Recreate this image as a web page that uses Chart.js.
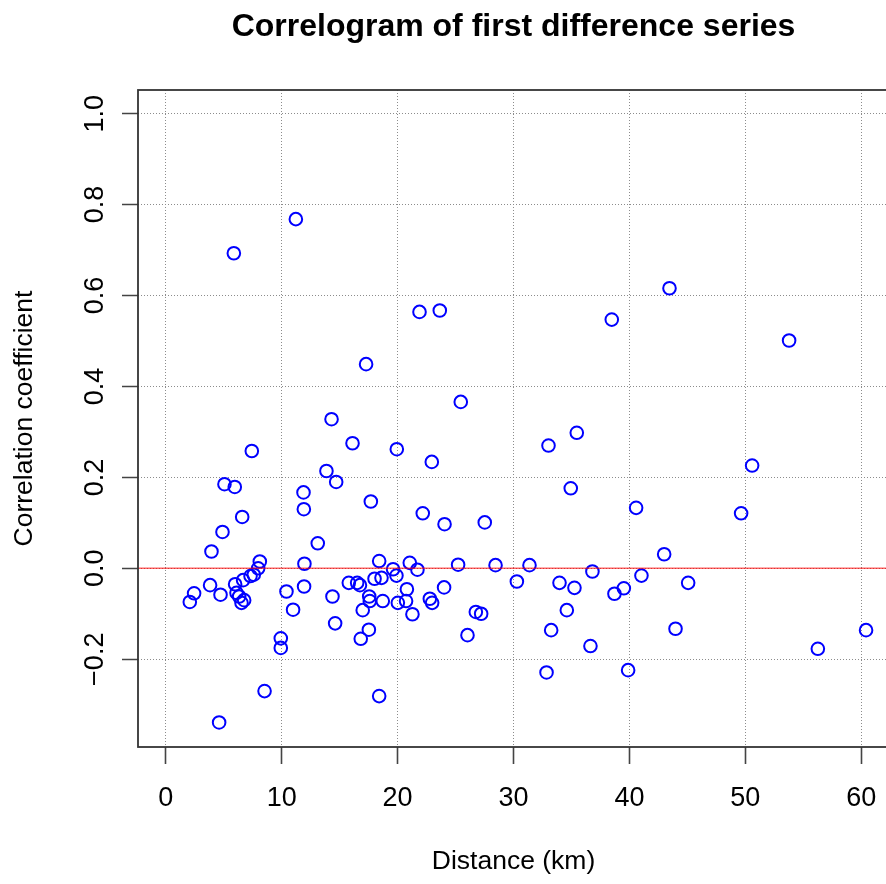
<!DOCTYPE html>
<html>
<head>
<meta charset="utf-8">
<title>Correlogram of first difference series</title>
<script src="https://cdn.jsdelivr.net/npm/chart.js@4.4.1/dist/chart.umd.min.js"></script>
<style>
  html, body { margin: 0; padding: 0; background: #fff; overflow: hidden; }
  #wrap { width: 900px; height: 884px; position: relative; }
</style>
</head>
<body>
<div id="wrap"><canvas id="corr"></canvas></div>
<script>
// --- data ---
const distanceKm = [
  5.87, 11.22, 17.28, 21.89, 23.64, 25.45, 38.48, 43.46, 53.78,
  14.30, 16.11, 7.42, 19.93, 22.95, 13.86, 14.70, 5.06, 5.95, 11.88,
  11.91, 17.69, 22.17, 6.59, 4.89, 13.11, 3.94, 8.11, 11.96, 18.41,
  21.05, 21.71, 19.61, 19.90, 7.97, 7.59, 7.31, 6.67, 5.98, 3.82,
  11.93, 15.79, 16.51, 16.75, 18.01, 18.61, 20.80, 2.44, 2.07, 4.72,
  6.10, 6.33, 6.76, 6.53, 10.41, 14.38, 17.55, 17.60, 18.72, 20.02,
  20.73, 22.78, 22.98, 10.98, 16.99, 21.28, 14.61, 17.52, 16.82, 9.92,
  9.92, 8.52, 18.41, 4.60,
  33.02, 35.46, 34.94, 40.58, 24.05, 27.52, 43.00, 25.22, 28.45, 31.38,
  36.81, 41.04, 30.29, 33.97, 35.26, 38.71, 39.52, 45.07, 24.01, 26.75,
  27.21, 34.60, 26.03, 33.25, 36.64, 43.98, 32.85, 39.89, 50.59, 49.64,
  60.42, 56.26
];
const correlation = [
  0.693, 0.768, 0.449, 0.564, 0.567, 0.366, 0.547, 0.616, 0.501,
  0.328, 0.275, 0.258, 0.262, 0.234, 0.214, 0.190, 0.185, 0.179, 0.167,
  0.130, 0.147, 0.121, 0.113, 0.080, 0.055, 0.037, 0.015, 0.010, 0.016,
  0.012, -0.003, -0.002, -0.016, 0.000, -0.014, -0.017, -0.026, -0.035, -0.037,
  -0.040, -0.032, -0.032, -0.037, -0.023, -0.021, -0.046, -0.055, -0.074, -0.058,
  -0.054, -0.062, -0.070, -0.076, -0.051, -0.062, -0.062, -0.072, -0.072, -0.076,
  -0.072, -0.067, -0.076, -0.091, -0.092, -0.101, -0.121, -0.135, -0.155, -0.154,
  -0.175, -0.270, -0.281, -0.339,
  0.270, 0.298, 0.176, 0.133, 0.097, 0.101, 0.031, 0.008, 0.007, 0.007,
  -0.007, -0.016, -0.029, -0.032, -0.043, -0.056, -0.044, -0.032, -0.042, -0.096,
  -0.100, -0.092, -0.147, -0.136, -0.171, -0.133, -0.229, -0.224, 0.226, 0.121,
  -0.136, -0.177
];
const xTickValues = [0, 10, 20, 30, 40, 50, 60];
const yTickValues = [-0.2, 0.0, 0.2, 0.4, 0.6, 0.8, 1.0];
const zeroLevel = 0;

const FONT = 'Liberation Sans, Arial, Helvetica, sans-serif';

// box round the plot region + red reference line at zero
const frame = {
  id: 'frame',
  afterDatasetsDraw(chart) {
    const { ctx, chartArea: a, scales: { y } } = chart;
    const py = y.getPixelForValue(zeroLevel);
    ctx.save();
    ctx.strokeStyle = 'rgba(255,0,0,0.6)';
    ctx.lineWidth = 1.4;
    ctx.beginPath();
    ctx.moveTo(a.left, py);
    ctx.lineTo(a.right, py);
    ctx.stroke();
    ctx.strokeStyle = '#333';
    ctx.lineWidth = 1.8;
    ctx.strokeRect(a.left, a.top, a.right - a.left, a.bottom - a.top);
    ctx.restore();
  }
};

const fmtY = v => (Math.abs(v) < 1e-9 ? '0.0' : v.toFixed(1).replace('-', '\u2212'));

new Chart(document.getElementById('corr'), {
  type: 'scatter',
  data: {
    datasets: [{
      data: distanceKm.map((d, i) => ({ x: d, y: correlation[i] })),
      pointStyle: 'circle',
      pointRadius: 6.3,
      pointHoverRadius: 6.3,
      borderWidth: 2,
      borderColor: '#0000ff',
      backgroundColor: 'rgba(0,0,0,0)'
    }]
  },
  options: {
    responsive: true,
    maintainAspectRatio: false,
    animation: false,
    events: [],
    layout: { padding: { left: 0, right: 11, top: 0, bottom: 0 } },
    scales: {
      x: {
        type: 'linear',
        min: -2.4,
        max: 62.4,
        afterBuildTicks: s => { s.ticks = xTickValues.map(v => ({ value: v })); },
        afterFit: s => { s.height = 137; },
        grid: {
          color: '#8c8c8c',
          lineWidth: 1,
          tickLength: 17,
          tickColor: '#444',
          tickWidth: 1.6,
          tickBorderDash: [10, 0]
        },
        border: { display: false, dash: [1, 2] },
        ticks: {
          autoSkip: false,
          maxRotation: 0,
          padding: 18,
          color: '#000',
          font: { family: FONT, size: 27 }
        },
        title: {
          display: true,
          text: 'Distance (km)',
          color: '#000',
          font: { family: FONT, size: 26.5 },
          padding: { top: 0, bottom: 6 }
        }
      },
      y: {
        type: 'linear',
        min: -0.393,
        max: 1.052,
        afterBuildTicks: s => { s.ticks = yTickValues.map(v => ({ value: v })); },
        afterFit: s => { s.width = 138; },
        grid: {
          color: '#8c8c8c',
          lineWidth: 1,
          tickLength: 16,
          tickColor: '#444',
          tickWidth: 1.6,
          tickBorderDash: [10, 0]
        },
        border: { display: false, dash: [1, 2] },
        ticks: {
          autoSkip: false,
          minRotation: 90,
          maxRotation: 90,
          crossAlign: 'center',
          padding: 0,
          color: '#000',
          font: { family: FONT, size: 27 },
          callback: v => fmtY(v)
        },
        title: {
          display: true,
          text: 'Correlation coefficient',
          color: '#000',
          font: { family: FONT, size: 26.5 },
          padding: { top: 9, bottom: 0 }
        }
      }
    },
    plugins: {
      legend: { display: false },
      tooltip: { enabled: false },
      title: {
        display: true,
        fullSize: false,
        text: 'Correlogram of first difference series',
        color: '#000',
        font: { family: FONT, size: 32, weight: 'bold' },
        padding: { top: 8, bottom: 43.6 }
      }
    }
  },
  plugins: [frame]
});
</script>
</body>
</html>
